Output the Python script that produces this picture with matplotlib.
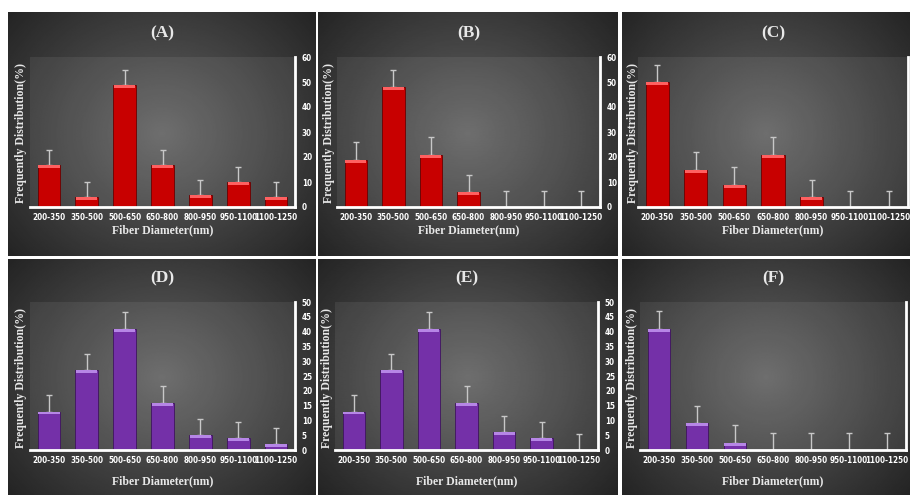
import numpy as np
import matplotlib.pyplot as plt
from matplotlib import font_manager

# categories de diametre
categories = ['200-350', '350-500', '500-650', '650-800', '800-950', '950-1100', '1100-1250']

freq_A = [17, 4, 49, 17, 5, 10, 4]
err_A = [6, 6, 6, 6, 6, 6, 6]
freq_B = [19, 48, 21, 6, 0, 0, 0]
err_B = [7, 7, 7, 7, 6.5, 6.5, 6.5]
freq_C = [50, 15, 9, 21, 4, 0, 0]
err_C = [7, 7, 7, 7, 7, 6.5, 6.5]
freq_D = [13, 27, 41, 16, 5, 4, 2]
err_D = [5.6, 5.6, 5.6, 5.6, 5.6, 5.6, 5.6]
freq_E = [13, 27, 41, 16, 6, 4, 0]
err_E = [5.6, 5.6, 5.6, 5.6, 5.6, 5.6, 5.5]
freq_F = [41, 9, 2.5, 0, 0, 0, 0]
err_F = [6, 6, 6, 5.6, 5.6, 5.6, 5.6]

titles = ['(A)', '(B)', '(C)', '(D)', '(E)', '(F)']

W, H = 910, 495


def rect(x0, y0, x1, y1):
    # pixels (origine en haut) -> fraction de figure
    return [x0 / W, 1 - y1 / H, (x1 - x0) / W, (y1 - y0) / H]


def panel_bg(fig, r):
    ax = fig.add_axes(rect(*r))
    yy, xx = np.mgrid[0:1:200j, 0:1:300j]
    d = np.sqrt(((xx - 0.5) / 0.75) ** 2 + ((yy - 0.5) / 0.85) ** 2)
    v = 0.39 - 0.28 * np.clip(d, 0, 1)
    ax.imshow(v, cmap='gray', vmin=0, vmax=1, aspect='auto', extent=[0, 1, 0, 1])
    ax.axis('off')


# police etroite pour les graduations (si disponible)
narrow_file = None
for key in ['LiberationSansNarrow-Bold.', 'DejaVuSansCondensed-Bold.']:
    for f in font_manager.fontManager.ttflist:
        if key in f.fname.replace('\\', '/').split('/')[-1]:
            narrow_file = f.fname
            break
    if narrow_file:
        break
if narrow_file:
    tick_font = font_manager.FontProperties(fname=narrow_file, size=5.8)
else:
    tick_font = font_manager.FontProperties(family='Liberation Sans', weight='bold', size=4.6)

panels = [(8, 12, 315, 256), (318, 12, 618, 256), (622, 12, 910, 256),
          (8, 259, 315, 495), (318, 259, 618, 495), (622, 259, 910, 495)]
plots = [(30, 57, 295, 207), (337, 57, 600, 207), (638, 57, 908, 207),
         (30, 302, 295, 450), (335, 302, 598, 450), (640, 302, 906, 450)]
ylabel_x = [21, 329, 633, 21, 327, 632]

data = [(freq_A, err_A), (freq_B, err_B), (freq_C, err_C),
        (freq_D, err_D), (freq_E, err_E), (freq_F, err_F)]

fig = plt.figure(figsize=(9.1, 4.95), dpi=100)
fig.patch.set_facecolor('white')

serif = 'Liberation Serif'

x = np.arange(len(categories))

for i in range(6):
    panel_bg(fig, panels[i])
    freq, err = data[i]
    top = i < 3
    ymax = 60 if top else 50
    step = 10 if top else 5
    col = '#c80000' if top else '#7430a8'
    hl = '#ff6060' if top else '#b686e6'
    edge = '#6a0000' if top else '#3e145e'

    ax = fig.add_axes(rect(*plots[i]))
    ax.set_facecolor((1, 1, 1, 0.07))
    ax.bar(x, freq, width=0.6, color=col, edgecolor=edge, linewidth=0.6, zorder=2)
    # petite bande claire en haut des barres
    f = np.array(freq, dtype=float)
    h = np.where(f > 0, np.minimum(f, ymax * 0.02), 0)
    ax.bar(x, h, bottom=f - h, width=0.56, color=hl, linewidth=0, zorder=3)
    ax.errorbar(x, freq, yerr=[np.zeros(len(err)), err], fmt='none',
                ecolor='#c8c8c8', elinewidth=1, capsize=2, capthick=1, zorder=1)

    ax.set_xlim(-0.5, 6.5)
    ax.set_ylim(0, ymax)
    ax.set_yticks(np.arange(0, ymax + 1, step))
    ax.yaxis.tick_right()
    ax.set_xticks(x)
    ax.set_xticklabels(categories)
    ax.tick_params(length=0, colors='white', pad=4)
    ax.tick_params(axis='y', pad=5)
    # la colonne de droite coupe les graduations (bord de l'image)
    if i in (2, 5):
        ax.tick_params(axis='y', labelright=False)
    for lab in ax.get_xticklabels() + ax.get_yticklabels():
        lab.set_fontproperties(tick_font)
    for s in ['left', 'top']:
        ax.spines[s].set_visible(False)
    for s in ['bottom', 'right']:
        ax.spines[s].set_color('white')
        ax.spines[s].set_linewidth(2)

    px0, py0, px1, py1 = plots[i]
    cx = (px0 + px1) / 2
    ty = 33 if top else 278
    fig.text(cx / W, 1 - ty / H, titles[i], ha='center', va='center',
             family=serif, fontweight='bold', fontsize=12.5, color='#e8e8e8')
    ly = 133 if top else 378
    fig.text(ylabel_x[i] / W, 1 - ly / H, 'Frequently Distribution(%)', rotation=90,
             ha='center', va='center', family=serif, fontweight='bold',
             fontsize=8.5, color='#e8e8e8')
    xy = 230 if top else 481
    fig.text(cx / W, 1 - xy / H, 'Fiber Diameter(nm)', ha='center', va='center',
             family=serif, fontweight='bold', fontsize=8.5, color='#e8e8e8')

fig.savefig('out.png', dpi=100, facecolor='white')
